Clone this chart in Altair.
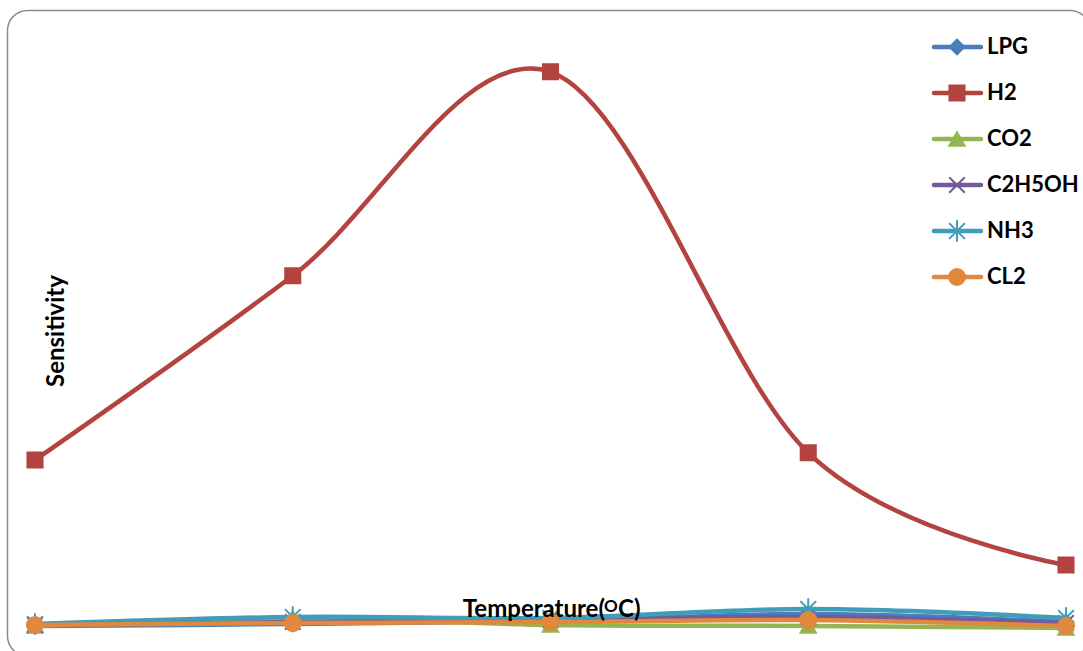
import altair as alt
import pandas as pd

# Measurement steps along the temperature sweep
steps = [1, 2, 3, 4, 5]

series = ["LPG", "H2", "CO2", "C2H5OH", "NH3", "CL2"]
lpg = [0.33, 0.67, 1.17, 2.33, 1.0]
h2 = [28.0, 58.7, 92.7, 29.2, 10.5]
co2 = [0.33, 1.67, 0.5, 0.33, 0.0]
c2h5oh = [0.5, 1.0, 1.33, 1.83, 0.83]
nh3 = [0.67, 1.83, 1.67, 3.17, 1.67]
cl2 = [0.5, 0.83, 1.0, 1.33, 0.33]
values = [lpg, h2, co2, c2h5oh, nh3, cl2]

colors = ["#4A7EBB", "#B3433F", "#93B552", "#76599B", "#3F9DBA", "#E0883E"]
shapes = [
    "diamond",
    "square",
    "triangle-up",
    "M-1,-1L1,1M-1,1L1,-1",
    "M-1,-1L1,1M-1,1L1,-1M0,-1.35L0,1.35",
    "circle",
]
sizes = [220, 256, 170, 150, 170, 324]

W, H = 1083, 651
FONT = "Lato"
TITLE_SIZE = 24

color_scale = alt.Scale(domain=series, range=colors)
shape_scale = alt.Scale(domain=series, range=shapes)
size_scale = alt.Scale(domain=series, range=sizes)

X = alt.X("step:Q", scale=alt.Scale(domain=[0.8642, 5.066], nice=False, zero=False), axis=None)
Y = alt.Y("value:Q", scale=alt.Scale(domain=[-3.833, 104.667], nice=False, zero=False), axis=None)


def marker_encoding(y):
    return dict(
        y=y,
        fill=alt.Fill("series:N", scale=color_scale, legend=None),
        stroke=alt.Stroke("series:N", scale=color_scale, legend=None),
        shape=alt.Shape("series:N", scale=shape_scale, legend=None),
        size=alt.Size("series:N", scale=size_scale, legend=None),
    )


# One line + marker layer per series, drawn in series order
series_layers = []
for name, vals in zip(series, values):
    df = pd.DataFrame({"step": steps, "value": vals, "series": name})
    base = alt.Chart(df)
    line = base.mark_line(interpolate="cardinal", strokeWidth=4.5, strokeCap="round").encode(
        x=X, y=Y, color=alt.Color("series:N", scale=color_scale, legend=None)
    )
    pts = base.mark_point(filled=True, strokeWidth=2, opacity=1).encode(x=X, **marker_encoding(Y))
    series_layers += [line, pts]
main = alt.layer(*series_layers)

one = pd.DataFrame({"k": [0]})
frame = alt.Chart(one).mark_rect(
    fill="transparent", stroke="#8A8A8A", strokeWidth=1.5, cornerRadius=20
).encode(x=alt.value(7.5), x2=alt.value(1090), y=alt.value(10.5), y2=alt.value(656))

title_style = dict(font=FONT, fontWeight="bold", color="#000000")

y_title = alt.Chart(one).mark_text(
    text="Sensitivity", angle=270, fontSize=TITLE_SIZE, align="center", baseline="middle", **title_style
).encode(x=alt.value(57), y=alt.value(331))

# "Temperature(ᴼC)" set in three pieces so the O sits as a superscript
x_title_main = alt.Chart(one).mark_text(
    text="Temperature(", fontSize=TITLE_SIZE, align="right", baseline="alphabetic", **title_style
).encode(x=alt.value(605), y=alt.value(617))
x_title_sup = alt.Chart(one).mark_text(
    text="O", fontSize=17, align="left", baseline="alphabetic", **title_style
).encode(x=alt.value(604), y=alt.value(612))
x_title_end = alt.Chart(one).mark_text(
    text="C)", fontSize=TITLE_SIZE, align="left", baseline="alphabetic", **title_style
).encode(x=alt.value(618), y=alt.value(617))

# Legend: a short line with the series marker, then the label
legend_df = pd.DataFrame({"series": series})
LY = alt.Y("series:N", scale=alt.Scale(type="point", domain=series, range=[47, 277], padding=0), axis=None)
leg_base = alt.Chart(legend_df)
leg_rule = leg_base.mark_rule(strokeWidth=4.5, strokeCap="round").encode(
    x=alt.value(934), x2=alt.value(981), y=LY,
    color=alt.Color("series:N", scale=color_scale, legend=None),
)
leg_pts = leg_base.mark_point(filled=True, strokeWidth=2, opacity=1).encode(
    x=alt.value(957), **marker_encoding(LY)
)
leg_text = leg_base.mark_text(
    align="left", baseline="middle", font=FONT, fontSize=22, fontWeight="bold", color="#000000"
).encode(x=alt.value(987), y=LY, text="series:N")
legend = alt.layer(leg_rule, leg_pts, leg_text)

chart = (
    alt.layer(frame, main, y_title, x_title_main, x_title_sup, x_title_end, legend)
    .resolve_scale(y="independent")
    .properties(width=W, height=H, padding=0, autosize=alt.AutoSizeParams(type="none"), background="#FFFFFF")
    .configure_view(strokeWidth=0)
)

chart.save("out.html", embed_options={"renderer": "svg", "actions": False})
